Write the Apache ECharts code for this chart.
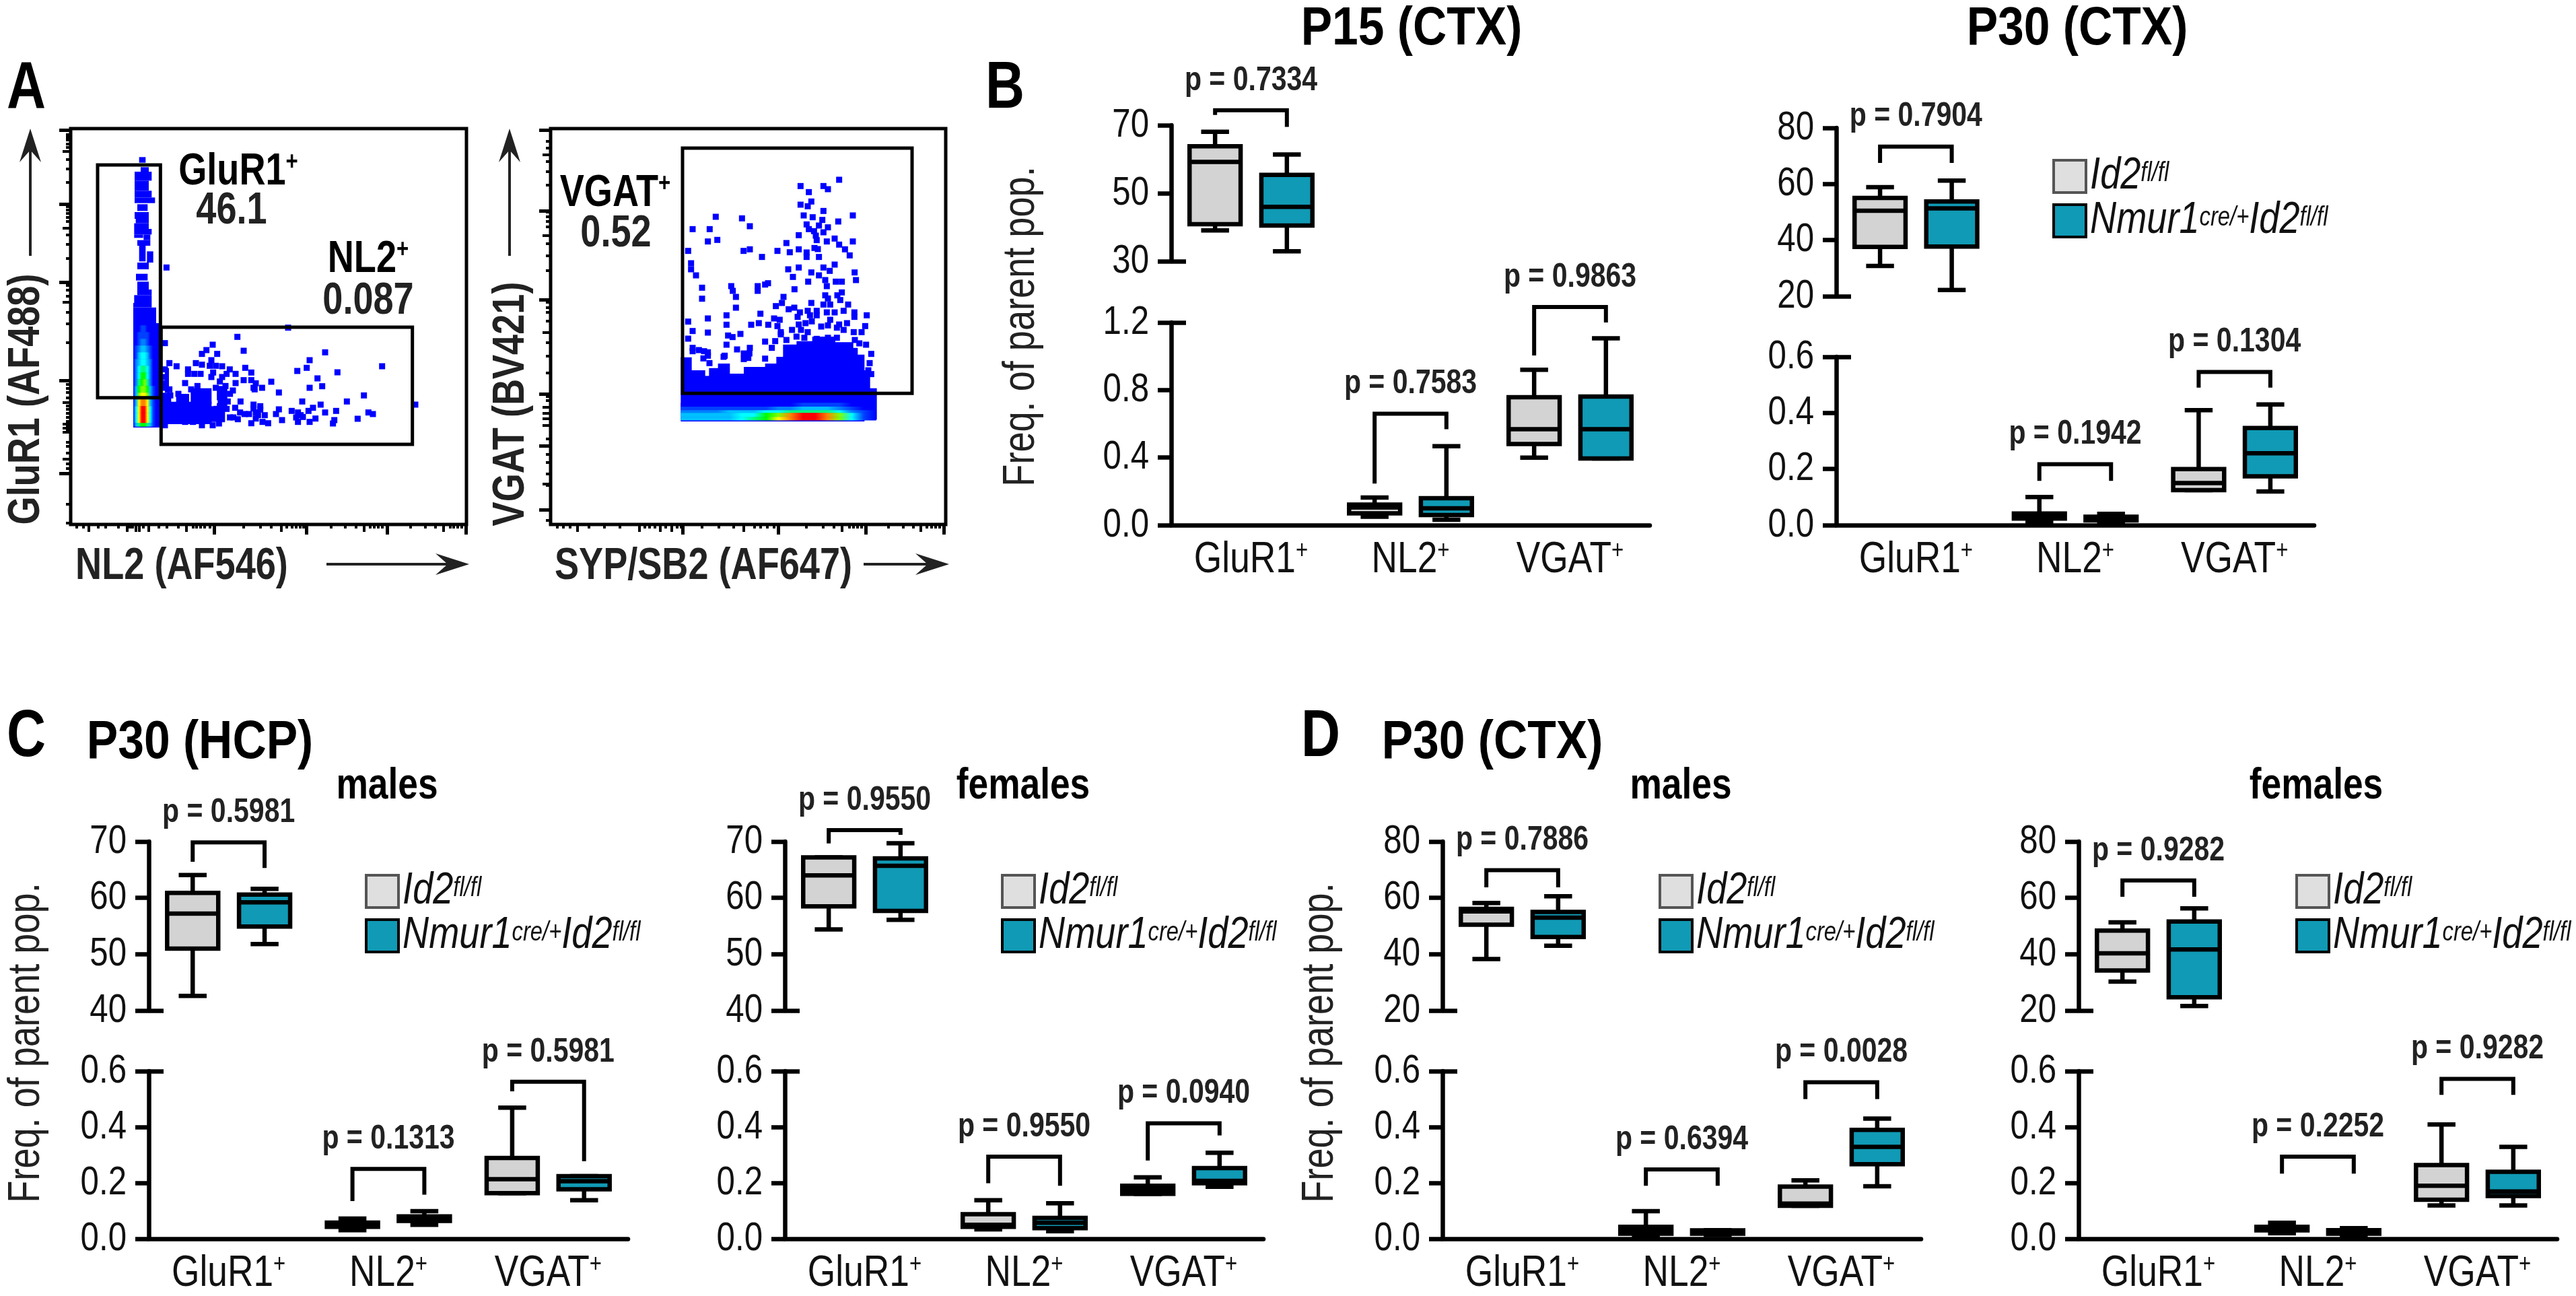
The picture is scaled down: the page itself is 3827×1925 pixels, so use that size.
<!DOCTYPE html>
<html><head><meta charset="utf-8">
<style>html,body{margin:0;padding:0;background:#fff}#c{width:3827px;height:1925px}</style>
<script src="https://cdn.jsdelivr.net/npm/echarts@6/dist/echarts.min.js"></script>
</head><body><div id="c"></div>
<script>
const FONT = '"Liberation Sans",Arial,sans-serif';
const NARROW = 0.82, NARROW_TITLE = 0.87; // the figure is set in a condensed face: labels are narrowed horizontally
const GREY = '#d3d3d3', TEAL = '#109ab5';
const categories = ['GluR1+', 'NL2+', 'VGAT+'];
const ctrlName = 'Id2fl/fl', koName = 'Nmur1cre/+Id2fl/fl';

// five-number summaries per category: [min, Q1, median, Q3, max]
const p15Ctrl = [[39.05,40.9,59.2,63.8,68.05],[0.05,0.07,0.105,0.122,0.163],[0.40,0.48,0.568,0.757,0.92]];
const p15Ko   = [[32.9,40.5,46.0,55.4,61.4],[0.032,0.06,0.10,0.159,0.467],[0.395,0.395,0.568,0.761,1.106]];
const p30Ctrl = [[30.8,37.6,50.5,55.06,58.9],[0.01,0.0235,0.03,0.0415,0.10],[0.125,0.125,0.15,0.20,0.41]];
const p30Ko   = [[22.2,37.7,51.3,53.8,61.2],[0.006,0.017,0.024,0.03,0.04],[0.12,0.174,0.256,0.346,0.43]];
const hcpMCtrl = [[42.6,51,57.2,60.9,64.04],[0.031,0.043,0.05,0.058,0.072],[0.163,0.163,0.213,0.289,0.469]];
const hcpMKo   = [[51.8,54.9,59.2,60.6,61.6],[0.05,0.064,0.07,0.08,0.099],[0.138,0.177,0.206,0.224,0.224]];
const hcpFCtrl = [[54.4,58.5,64.0,67.2,67.2],[0.034,0.043,0.05,0.088,0.138],[0.161,0.161,0.176,0.19,0.22]];
const hcpFKo   = [[56.1,57.7,65.7,67.0,69.7],[0.027,0.038,0.057,0.075,0.127],[0.186,0.199,0.207,0.253,0.308]];
const ctxMCtrl = [[38.3,50.5,55.2,56.1,58.2],[0.004,0.018,0.031,0.043,0.099],[0.118,0.118,0.126,0.187,0.209]];
const ctxMKo   = [[43,46.1,53,55,60.6],[0.0135,0.018,0.024,0.03,0.031],[0.188,0.267,0.329,0.39,0.43]];
const ctxFCtrl = [[30.3,34.2,40.3,48.4,51.3],[0.02,0.03,0.037,0.043,0.057],[0.119,0.14,0.19,0.264,0.409]];
const ctxFKo   = [[21.6,24.7,41.7,51.6,56.3],[0.007,0.018,0.024,0.031,0.038],[0.119,0.153,0.169,0.24,0.329]];

// significance brackets per category: [top, left arm end, right arm end]
const p15Brackets = [[74.4,73,69.5],[0.66,0.246,0.568],[1.292,1.005,1.2]];
const p30Brackets = [[73.35,67.5,67.5],[0.217,0.158,0.158],[0.546,0.49,0.49]];
const hcpMBrackets = [[69.86,66.4,65.3],[0.25,0.135,0.158],[0.562,0.528,0.278]];
const hcpFBrackets = [[72.03,69.66,71.2],[0.294,0.199,0.19],[0.413,0.28,0.37]];
const ctxMBrackets = [[69.84,63.75,63.75],[0.248,0.19,0.19],[0.56,0.50,0.50]];
const ctxFBrackets = [[66.2,60.4,60.4],[0.294,0.233,0.233],[0.572,0.515,0.515]];
const p15P = ['0.7334','0.7583','0.9863'];
const p30P = ['0.7904','0.1942','0.1304'];
const hcpMP = ['0.5981','0.1313','0.5981'];
const hcpFP = ['0.9550','0.9550','0.0940'];
const ctxMP = ['0.7886','0.6394','0.0028'];
const ctxFP = ['0.9282','0.2252','0.9282'];

// flow plot A-left: blue solid row spans [x0, yTop, x1, yBottom] (axis units)
const flow1Solid = [[230,100,256,125],[237,145,270,165],[210,165,283,205],[210,205,270,250],[210,250,283,280],[210,280,298,305],
 [222,310,265,340],[210,345,270,375],[215,375,270,395],[208,395,270,420],[208,420,283,445],[208,445,245,460],[250,445,277,470],[222,470,277,495],
 [230,495,256,565],[265,520,290,570],[222,570,270,600],[216,620,265,650],[222,655,270,690],[222,690,283,715],[208,715,283,750],[204,750,283,770],
 [204,770,303,840],[204,840,318,1305],
 [330,1190,550,1290],[330,1150,370,1200],[395,1155,450,1200],[460,1130,550,1200],[550,1210,610,1280],[580,1120,620,1215],[345,1040,360,1150]];
// density rows: y edges and colour index per x column
const flow1DensX = [204,318];
const flow1DensY = [850,880,910,940,970,1000,1030,1060,1090,1120,1150,1180,1210,1240,1265,1285,1300];
const flow1Dens = [[0,0,0,1,1,0,0,0,0,0],[0,0,1,1,1,1,0,0,0,0],[0,0,1,2,2,1,0,0,0,0],[0,1,2,3,3,2,1,0,0,0],
 [0,1,3,4,4,3,1,0,0,0],[0,2,3,4,4,3,2,0,0,0],[0,2,4,5,5,4,2,0,0,0],[0,2,4,6,6,4,2,0,0,0],[0,2,5,6,7,5,2,0,0,0],
 [0,3,6,7,7,6,3,1,0,0],[0,3,7,8,8,7,3,1,0,0],[0,3,8,9,9,8,3,1,0,0],[0,4,8,10,10,8,4,1,0,0],[0,4,8,10,10,8,4,1,0,0],
 [0,4,8,10,10,8,4,1,0,0],[0,3,5,6,6,5,3,1,0,0]];
const flow1Dots = [[352,592],[345,929],[668,901],[894,860],[558,936],[530,960],[510,977],[578,977],[696,963],[1059,970],[552,1005],[990,1005],
 [365,1018],[483,1018],[510,1025],[545,1030],[572,1030],[600,1032],[397,1032],[977,1039],[1313,1032],[703,1039],[345,1046],[448,1046],[634,1046],
 [730,1060],[935,1053],[1114,1059],[448,1066],[476,1066],[504,1066],[560,1060],[620,1066],[660,1066],[552,1080],[600,1080],[345,1080],[1025,1086],
 [696,1094],[730,1094],[590,1100],[345,1108],[435,1107],[750,1108],[819,1101],[660,1107],[490,1120],[615,1120],[1046,1121],[572,1128],[345,1128],
 [740,1128],[778,1128],[990,1128],[462,1135],[365,1135],[648,1140],[525,1148],[590,1148],[853,1149],[745,1135],[635,1155],[476,1155],[369,1162],
 [405,1155],[1232,1162],[590,1170],[500,1162],[530,1170],[430,1170],[957,1189],[1156,1189],[1461,1203],[1039,1203],[682,1189],[625,1189],[605,1176],
 [740,1203],[770,1210],[1005,1217],[658,1217],[853,1224],[1108,1231],[910,1231],[985,1231],[938,1238],[1059,1238],[1252,1238],[1272,1245],[840,1245],
 [680,1238],[750,1238],[790,1250],[700,1245],[960,1258],[650,1260],[635,1260],[670,1268],[1204,1266],[1016,1265],[867,1272],[938,1280],[990,1280],
 [1100,1272],[1094,1287],[805,1286],[730,1286],[780,1280],[598,1268],[586,1287],[558,1295],[510,1295],[470,1280],[435,1280],[345,1295],[750,1265],
 [740,1220],[760,1250],[620,1222],[575,1222],[590,1210],[580,1240],[560,1265],[720,1245],[770,1225],[950,1250],[930,1260]];
const flow1Gates = [[45,135,325,1172],[328,858,1448,1380]];

// flow plot A-right: solid blue columns [x0, yTop, x1, yBottom]
const flow2Solid = [[634,992,680,1278],[680,1050,740,1278],[740,1075,760,1278],[760,1040,800,1278],[800,1020,850,1278],[850,1065,915,1278],
 [915,1035,1010,1278],[1010,1020,1060,1278],[1060,990,1090,1278],[1090,935,1150,1278],[1150,920,1220,1278],[1220,900,1320,1278],[1320,925,1400,1278],
 [1400,950,1420,1278],[1420,980,1450,1278],[1450,1050,1475,1272],[1475,1130,1505,1270]];
const flow2DensY = [1195,1212,1228,1240,1258,1272];
const flow2Dens = [[0,0,0,0,0,0,0,0,0,0,1,1,1,1,0,0,0],[1,1,1,1,1,1,1,1,2,2,3,3,3,2,1,0,0],[2,2,2,2,3,3,3,4,4,5,5,5,5,4,2,1,0],
 [3,3,3,3,3,4,4,6,7,9,10,10,9,7,4,1,0],[3,3,3,3,3,4,5,6,8,9,10,10,9,7,4,1,0]];
const flow2DensX = [634,1505];
const flow2Dots = [[1340,201],[1168,229],[1270,229],[1290,243],[1205,256],[1216,298],[1168,312],[1200,319],[1270,340],[1182,360],[1222,368],[1265,380],
 [1401,360],[790,366],[907,373],[1336,387],[1195,400],[1250,405],[942,408],[687,421],[763,421],[1290,413],[1205,421],[1228,430],[1270,435],[1160,448],
 [1236,450],[755,476],[797,469],[1240,470],[1320,463],[1285,476],[1401,476],[1105,483],[1340,490],[1160,511],[1230,505],[1366,511],[667,518],[914,518],
 [942,511],[1065,518],[1120,524],[1195,525],[1245,510],[1387,538],[996,545],[1250,545],[1195,545],[680,573],[680,600],[1160,592],[1113,600],[1270,592],
 [1320,579],[1298,607],[1409,614],[1216,614],[702,627],[1250,627],[1134,634],[1415,648],[1202,655],[1278,648],[1325,655],[1352,655],[1023,662],[1010,668],
 [859,675],[977,675],[1285,675],[729,682],[866,696],[977,696],[1141,689],[1352,703],[1092,723],[1278,716],[1332,716],[880,723],[729,731],[1290,730],
 [1345,737],[1085,750],[1216,750],[1058,764],[1270,757],[1300,757],[1380,757],[880,771],[1115,778],[1140,771],[1165,792],[1200,785],[1240,785],[1360,785],
 [1285,792],[1320,792],[1408,792],[1155,812],[1210,805],[1240,805],[1463,805],[1408,812],[989,798],[838,805],[755,819],[667,833],[1050,819],[1075,825],
 [1300,825],[1160,846],[1190,840],[1340,846],[1375,840],[838,847],[948,847],[982,840],[1024,847],[1065,853],[1218,832],[1260,855],[1290,850],[1456,853],
 [687,875],[755,882],[1080,880],[1130,870],[1170,870],[1200,880],[1330,860],[1360,870],[1405,880],[1440,880],[1080,890],[845,895],[865,902],[900,888],
 [667,909],[1010,922],[1105,915],[1150,900],[1185,905],[1240,910],[1290,905],[1330,905],[838,936],[1410,915],[1430,930],[1460,936],[687,950],[942,950],
 [1055,920],[1040,950],[715,960],[885,957],[738,965],[755,970],[687,965],[1483,977],[755,985],[830,985],[915,975],[940,975],[915,1000],[935,995],[1010,998],
 [735,997],[1476,1018],[762,1018],[1470,1050],[1483,1067],[825,990]];
const flow2Gates = [[642,60,1665,1153]];

// tick positions of the biexponential flow axes (axis units)
const flow1YTicks = {major:[-21,311,659,1095,1509], mid:[75,415,746,1193,1289,1307,1324,1445],
 minor:[-1,10,24,40,57,110,151,213,321,336,351,368,386,447,489,552,670,691,720,790,843,925,1113,1131,1148,1172,1207,1224,1242,1260,1277,1295,1312,1371,1389,1418,1465,1488,1647,1729]};
const flow1XTicks = {major:[564,975,1336,1688], mid:[5,175,215,230,271,439,864,1231,1586],
 minor:[-49,-20,47,79,137,189,201,247,317,352,405,469,486,503,521,544,695,771,818,888,911,928,946,963,1085,1149,1196,1260,1277,1295,1312,1440,1504,1551,1615,1632,1650,1667]};
const flow2YTicks = {major:[-21,340,735,1155,1387,1671], mid:[90,450,880,1215,1240,1265,1295,1555],
 minor:[30,60,120,165,225,345,365,385,410,485,540,605,745,770,790,830,925,985,1060,1165,1185,1356,1425,1461,1512,1563,1719]};
const flow2XTicks = {major:[644,1069,1459,1808], mid:[172,449,542,594,914,1351,1702],
 minor:[82,111,141,225,292,362,472,495,519,565,618,635,728,804,868,961,990,1019,1048,1194,1269,1316,1386,1403,1421,1438,1560,1624,1671,1729,1752,1770,1787]};

// jet colour ramp for density index 0..10
const jet = ['#0000ff','#0040ff','#0080ff','#00c0ff','#00ffff','#00ff80','#00ff00','#80ff00','#ffff00','#ff8000','#ff0000'];

const grids=[], xAxes=[], yAxes=[], series=[];

function sup(main,s){return '{a|'+main+'}{s|'+s+'}';}
function boxRender(side){
  return function(params,api){
    const cat=api.value(0), band=api.size([1,0])[0];
    const cx=api.coord([cat,0])[0]+side*band*0.225;
    const y=[1,2,3,4,5].map(i=>api.coord([cat,api.value(i)])[1]);
    const fill=api.visual('color'), w=band*0.32, cap=band*0.175/2, lw=6.5;
    const line=(x1,y1,x2,y2)=>({type:'line',shape:{x1,y1,x2,y2},style:{stroke:'#000',lineWidth:lw}});
    return {type:'group',children:[
      line(cx,y[0],cx,y[4]),line(cx-cap,y[0],cx+cap,y[0]),line(cx-cap,y[4],cx+cap,y[4]),
      {type:'rect',shape:{x:cx-w/2,y:y[3],width:w,height:y[1]-y[3]},style:{fill,stroke:'#000',lineWidth:lw}},
      line(cx-w/2,y[2],cx+w/2,y[2])
    ]};
  };
}
function bracketRender(labels){
  return function(params,api){
    const cat=api.value(0), band=api.size([1,0])[0];
    const cx=api.coord([cat,0])[0], xL=cx-band*0.225, xR=cx+band*0.225;
    const yT=api.coord([cat,api.value(1)])[1], yA=api.coord([cat,api.value(2)])[1], yB=api.coord([cat,api.value(3)])[1];
    return {type:'group',children:[
      {type:'polyline',shape:{points:[[xL,yA],[xL,yT],[xR,yT],[xR,yB]]},style:{stroke:'#000',fill:null,lineWidth:6}},
      {type:'text',x:cx,y:yT-44,style:{text:'p = '+labels[cat],fill:'#222',font:'bold 50px '+FONT,textAlign:'center',textVerticalAlign:'middle'}}
    ]};
  };
}
function addAxisPair(p,top,bottom,range,breakVal,isLower){
  const gi=grids.length;
  grids.push({left:p.left,width:p.width,top:top,height:bottom-top});
  xAxes.push({gridIndex:gi,type:'category',data:categories,show:isLower,position:'bottom',
    axisLine:{onZero:false,lineStyle:{color:'#000',width:6.5}},axisTick:{show:false},
    axisLabel:{show:isLower,margin:20,color:'#111',formatter:v=>sup(v.replace('+',''),'+'),
      rich:{a:{fontSize:65,fontFamily:FONT,color:'#111'},s:{fontSize:38,fontFamily:FONT,color:'#111',verticalAlign:'top'}}}});
  const yi=yAxes.length;
  yAxes.push({gridIndex:gi,type:'value',position:'left',min:range[0],max:range[1],interval:range[2],splitLine:{show:false},
    axisLine:{show:true,onZero:false,lineStyle:{color:'#000',width:6.5}},
    axisTick:{show:true,length:20,lineStyle:{color:'#000',width:6.5}},
    axisLabel:{margin:33,fontSize:60,fontFamily:FONT,color:'#111',formatter:v=>isLower?v.toFixed(1):String(v)}});
  yAxes.push({gridIndex:gi,type:'value',position:'left',min:range[0],max:range[1],splitLine:{show:false},axisLine:{show:false,onZero:false},axisLabel:{show:false},
    axisTick:{show:true,inside:true,length:22,customValues:[breakVal],lineStyle:{color:'#000',width:6.5}}});
  return {xi:gi,yi};
}
function addPanel(p){
  const up=addAxisPair(p,p.upper[0],p.upper[1],p.upRange,p.upRange[0],false);
  const lo=addAxisPair(p,p.lower[0],p.lower[1],p.loRange,p.loRange[1],true);
  [[p.ctrl,ctrlName,GREY,-1],[p.ko,koName,TEAL,1]].forEach(([vals,name,color,side])=>{
    series.push({type:'custom',name,xAxisIndex:up.xi,yAxisIndex:up.yi,renderItem:boxRender(side),itemStyle:{color},
      encode:{x:0,y:[1,2,3,4,5]},data:[[0].concat(vals[0])],z:3,silent:true});
    series.push({type:'custom',name,xAxisIndex:lo.xi,yAxisIndex:lo.yi,renderItem:boxRender(side),itemStyle:{color},
      encode:{x:0,y:[1,2,3,4,5]},data:[[1].concat(vals[1]),[2].concat(vals[2])],z:3,silent:true});
  });
  series.push({type:'custom',xAxisIndex:up.xi,yAxisIndex:up.yi,renderItem:bracketRender(p.ps),encode:{x:0,y:[1,2,3]},
    data:[[0].concat(p.br[0])],z:4,silent:true});
  series.push({type:'custom',xAxisIndex:lo.xi,yAxisIndex:lo.yi,renderItem:bracketRender(p.ps),encode:{x:0,y:[1,2,3]},
    data:[[1].concat(p.br[1]),[2].concat(p.br[2])],z:4,silent:true});
}
const lowRowUp=[1250,1501], lowRowLo=[1591,1842.5];
[{left:1740,width:711,upper:[186,388],lower:[479,780],upRange:[30,70,20],loRange:[0,1.2,0.4],ctrl:p15Ctrl,ko:p15Ko,br:p15Brackets,ps:p15P},
 {left:2728,width:710,upper:[190,440],lower:[530,780],upRange:[20,80,20],loRange:[0,0.6,0.2],ctrl:p30Ctrl,ko:p30Ko,br:p30Brackets,ps:p30P},
 {left:221,width:712,upper:lowRowUp,lower:lowRowLo,upRange:[40,70,10],loRange:[0,0.6,0.2],ctrl:hcpMCtrl,ko:hcpMKo,br:hcpMBrackets,ps:hcpMP},
 {left:1166,width:711,upper:lowRowUp,lower:lowRowLo,upRange:[40,70,10],loRange:[0,0.6,0.2],ctrl:hcpFCtrl,ko:hcpFKo,br:hcpFBrackets,ps:hcpFP},
 {left:2143,width:711,upper:lowRowUp,lower:lowRowLo,upRange:[20,80,20],loRange:[0,0.6,0.2],ctrl:ctxMCtrl,ko:ctxMKo,br:ctxMBrackets,ps:ctxMP},
 {left:3088,width:711,upper:lowRowUp,lower:lowRowLo,upRange:[20,80,20],loRange:[0,0.6,0.2],ctrl:ctxFCtrl,ko:ctxFKo,br:ctxFBrackets,ps:ctxFP}
].forEach(addPanel);

// ---- flow plots ----
function rectRender(style,overlap){
  return function(params,api){
    const a=api.coord([api.value(0),api.value(1)]), b=api.coord([api.value(2),api.value(3)]);
    return {type:'rect',shape:{x:a[0],y:a[1],width:b[0]-a[0]+(overlap||0),height:b[1]-a[1]},style};
  };
}
function densRender(rows,edges,xr){
  return function(params,api){
    const i=api.value(0), r=rows[i];
    const a=api.coord([xr[0],edges[i]]), b=api.coord([xr[1],edges[i+1]]);
    const stops=r.map((c,k)=>({offset:k/(r.length-1),color:jet[c]}));
    return {type:'rect',shape:{x:a[0],y:a[1],width:b[0]-a[0],height:b[1]-a[1]+0.5},
      style:{fill:new echarts.graphic.LinearGradient(0,0,1,0,stops)}};
  };
}
function addFlow(f){
  const gi=grids.length;
  grids.push({left:f.left,width:f.width,top:191,height:588,show:true,borderColor:'#000',borderWidth:5,backgroundColor:'transparent'});
  const xStart=xAxes.length, yStart=yAxes.length;
  const base={gridIndex:gi,type:'value',splitLine:{show:false},axisLine:{show:false,onZero:false},axisLabel:{show:false}};
  [['major',15,5],['mid',11,4],['minor',6,4]].forEach(([k,len,w])=>{
    xAxes.push(Object.assign({},base,{position:'bottom',min:f.xr[0],max:f.xr[1],axisTick:{show:true,length:len,customValues:f.xt[k],lineStyle:{color:'#000',width:w}}}));
  });
  [['major',17,5],['mid',12,4],['minor',7,4]].forEach(([k,len,w])=>{
    yAxes.push(Object.assign({},base,{position:'left',min:-27,max:1737,inverse:true,axisTick:{show:true,length:len,customValues:f.yt[k],lineStyle:{color:'#000',width:w}}}));
  });
  const ax={xAxisIndex:xStart,yAxisIndex:yStart,silent:true};
  series.push(Object.assign({type:'custom',renderItem:rectRender({fill:'#0000ff'},1),encode:{x:[0,2],y:[1,3]},data:f.solid,z:2},ax));
  series.push(Object.assign({type:'custom',renderItem:densRender(f.dens,f.densY,f.densX),encode:{x:1,y:2},
    data:f.dens.map((r,i)=>[i,f.densX[0],f.densY[i]]),z:3},ax));
  series.push(Object.assign({type:'scatter',symbol:'rect',symbolSize:9,itemStyle:{color:'#0000ff',opacity:1},data:f.dots,z:2},ax));
  series.push(Object.assign({type:'custom',renderItem:rectRender({fill:null,stroke:'#000',lineWidth:5}),encode:{x:[0,2],y:[1,3]},data:f.gates,z:5},ax));
}
addFlow({left:105,width:588,xr:[-75,1689],xt:flow1XTicks,yt:flow1YTicks,solid:flow1Solid,dens:flow1Dens,densY:flow1DensY,densX:flow1DensX,dots:flow1Dots,gates:flow1Gates});
addFlow({left:818,width:587,xr:[54,1815],xt:flow2XTicks,yt:flow2YTicks,solid:flow2Solid,dens:flow2Dens,densY:flow2DensY,densX:flow2DensX,dots:flow2Dots,gates:flow2Gates});

// ---- legends ----
const legendRich={g:{width:13,lineHeight:48},i:{fontSize:66,lineHeight:48,fontStyle:'italic',fontFamily:FONT,color:'#111'},
  s:{fontSize:40,lineHeight:30,fontStyle:'italic',fontFamily:FONT,color:'#111',verticalAlign:'top'}};
function legendAt(left,top){
  return {show:true,left,top:top-8,orient:'vertical',itemWidth:48,itemHeight:48,itemGap:0,icon:'rect',selectedMode:false,padding:0,
    data:[{name:ctrlName,itemStyle:{color:'#dfdfdf',borderColor:'#555',borderWidth:4}},{name:koName,itemStyle:{color:TEAL,borderColor:'#000',borderWidth:4}}],
    formatter:n=>n===ctrlName?'{g| }{i|Id2}{s|fl/fl}':'{g| }{i|Nmur1}{s|cre/+}{i|Id2}{s|fl/fl}',
    textStyle:{rich:legendRich}};
}
const legends=[legendAt(3049,237),legendAt(542,1299),legendAt(1487,1299),legendAt(2464,1299),legendAt(3410,1299)];

// ---- text and arrows ----
const g=[];
function txt(x,y,text,font,opt){
  g.push(Object.assign({type:'text',x,y,silent:true,style:Object.assign({text,font,fill:'#000',textAlign:'center',textVerticalAlign:'middle'},opt&&opt.style)},opt&&opt.el));
}
const B=s=>'bold '+s+'px '+FONT, R=s=>s+'px '+FONT;
[['A',39,133],['B',1493,133],['C',39,1096],['D',1962,1096]].forEach(a=>txt(a[1],a[2],a[0],B(98)));
txt(2097,44,'P15 (CTX)',B(80)); txt(3086,44,'P30 (CTX)',B(80));
txt(297,1104,'P30 (HCP)',B(80)); txt(2217,1104,'P30 (CTX)',B(80));
txt(575,1168,'males',B(65)); txt(1520,1168,'females',B(65)); txt(2497,1168,'males',B(65)); txt(3441,1168,'females',B(65));
[[1518,485],[40,1549],[1962,1549]].forEach(p=>txt(p[0],p[1],'Freq. of parent pop.',R(66),{el:{rotation:Math.PI/2},style:{fill:'#222'}}));
txt(40,593,'GluR1 (AF488)',B(66),{el:{rotation:Math.PI/2},style:{fill:'#222'}});
txt(760,600,'VGAT (BV421)',B(66),{el:{rotation:Math.PI/2},style:{fill:'#222'}});
txt(270,842,'NL2 (AF546)',B(66),{style:{fill:'#222'}}); txt(1045,842,'SYP/SB2 (AF647)',B(66),{style:{fill:'#222'}});
const supRich={a:{font:B(66),fill:'#000'},s:{font:B(38),fill:'#000',verticalAlign:'top'}};
[[354,256,'GluR1'],[547,386,'NL2'],[914,288,'VGAT']].forEach(a=>g.push({type:'text',x:a[0],y:a[1],silent:true,
  style:{text:sup(a[2],'+'),rich:supRich,textAlign:'center',textVerticalAlign:'middle'}}));
txt(344,314,'46.1',B(66),{style:{fill:'#222'}}); txt(547,448,'0.087',B(66),{style:{fill:'#222'}}); txt(915,348,'0.52',B(66),{style:{fill:'#222'}});
// arrows
function arrow(x1,y1,x2,y2){
  const a=Math.atan2(y2-y1,x2-x1), L=50, W=16, N=32;
  const cs=Math.cos(a), sn=Math.sin(a);
  const p=(l,w)=>[x2-l*cs-w*sn,y2-l*sn+w*cs];
  g.push({type:'line',silent:true,shape:{x1,y1,x2:x2-N*cs,y2:y2-N*sn},style:{stroke:'#222',lineWidth:4}});
  g.push({type:'polygon',silent:true,shape:{points:[[x2,y2],p(L,W),p(N,0),p(L,-W)]},style:{fill:'#222'}});
}
arrow(485,838,697,838); arrow(1283,838,1410,838); arrow(45,380,45,191); arrow(757,380,757,191);

const chart=echarts.init(document.getElementById('c'),null,{renderer:'canvas'});
chart.setOption({animation:false,backgroundColor:'#fff',grid:grids,xAxis:xAxes,yAxis:yAxes,series,legend:legends,graphic:{elements:g}});
// no condensed face is installed: narrow every label about its own anchor
const zr=chart.getZr();
zr.storage.traverse(el=>{ if(el.type==='text'){ el.scaleX=/^P\d\d \(/.test(el.style.text||'')?NARROW_TITLE:NARROW; el.markRedraw(); } });
zr.refresh();
</script></body></html>
